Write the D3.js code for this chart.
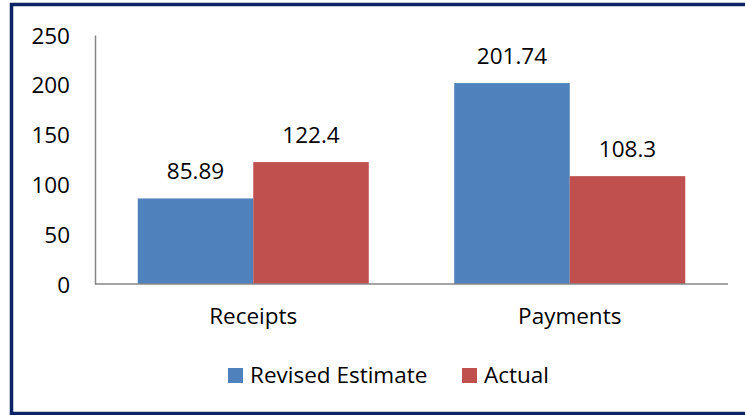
<!DOCTYPE html>
<html>
<head>
<meta charset="utf-8">
<script src="https://cdn.jsdelivr.net/npm/d3@7"></script>
<style>
  html, body { margin: 0; padding: 0; background: #fff; }
  svg { display: block; }
  text { font-family: "Open Sans", Lato, sans-serif; fill: #000; }
</style>
</head>
<body>
<svg id="chart" width="745" height="415"></svg>
<script>
const categories = ["Receipts", "Payments"];
const seriesNames = ["Revised Estimate", "Actual"];
const revisedEstimate = [85.89, 201.74];
const actual = [122.4, 108.3];
const yTicks = [0, 50, 100, 150, 200, 250];
const colors = ["#4F81BD", "#C0504D"];

const FONT = "'Open Sans', Lato, sans-serif";
const FS = 22.5;
const seriesValues = [revisedEstimate, actual];
const svg = d3.select("#chart");
const W = 745, H = 415;

// Border
svg.append("rect")
  .attr("x", 11.5).attr("y", 4.5)
  .attr("width", W + 10).attr("height", 409)
  .attr("fill", "none").attr("stroke", "#0B2466").attr("stroke-width", 3.5);

const plot = { left: 95, right: 728, top: 35, bottom: 284 };

const x0 = d3.scaleBand().domain(categories).range([plot.left, plot.right]).paddingInner(0.27).paddingOuter(0.135);
const x1 = d3.scaleBand().domain(seriesNames).range([0, x0.bandwidth()]);
const y = d3.scaleLinear().domain([0, 250]).range([plot.bottom, plot.top]);

// Bars
categories.forEach((c, ci) => {
  seriesNames.forEach((s, si) => {
    const v = seriesValues[si][ci];
    svg.append("rect")
      .attr("x", x0(c) + x1(s))
      .attr("y", y(v))
      .attr("width", x1.bandwidth())
      .attr("height", y(0) - y(v))
      .attr("fill", colors[si]);
    svg.append("text")
      .attr("x", x0(c) + x1(s) + x1.bandwidth() / 2)
      .attr("y", y(v) - 19)
      .attr("text-anchor", "middle")
      .attr("font-size", FS)
      .text(String(v));
  });
});

// Y axis
const yAxis = d3.axisLeft(y).tickValues(yTicks).tickSize(0).tickPadding(25).tickFormat(d3.format("d"));
const gy = svg.append("g").attr("transform", `translate(${plot.left},0)`).call(yAxis);
gy.select(".domain").attr("stroke", "#868686").attr("stroke-width", 1.5);
gy.selectAll("text").attr("font-size", FS).attr("font-family", FONT).attr("fill", "#000").attr("dy", "0.36em");

// X axis
const xAxis = d3.axisBottom(x0).tickSize(0).tickPadding(24);
const gx = svg.append("g").attr("transform", `translate(0,${plot.bottom})`).call(xAxis);
gx.select(".domain").attr("stroke", "#868686").attr("stroke-width", 1.5).attr("d", `M${plot.left},0H${plot.right}`);
gx.selectAll("text").attr("font-size", FS).attr("font-family", FONT).attr("fill", "#000");

// Legend
const legendItems = [
  { name: seriesNames[0], color: colors[0], x: 228 },
  { name: seriesNames[1], color: colors[1], x: 462 }
];
legendItems.forEach(it => {
  svg.append("rect").attr("x", it.x).attr("y", 368).attr("width", 15).attr("height", 15).attr("fill", it.color);
  svg.append("text").attr("x", it.x + 22).attr("y", 383).attr("font-size", FS).text(it.name);
});
</script>
</body>
</html>
